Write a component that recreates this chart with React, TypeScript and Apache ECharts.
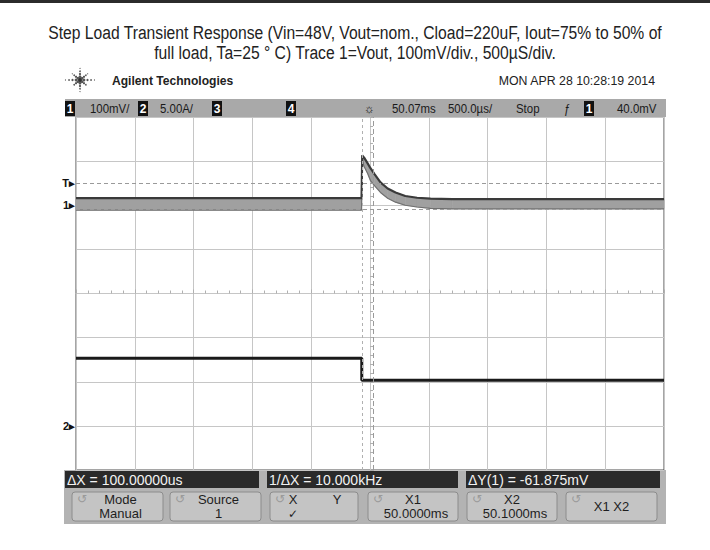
import React, { useEffect, useRef } from "react";
import * as echarts from "echarts";

const titleLines = [
  "Step Load Transient Response (Vin=48V, Vout=nom., Cload=220uF, Iout=75% to 50% of",
  "full load, Ta=25 ° C) Trace 1=Vout, 100mV/div., 500µS/div.",
];
const brandText = "Agilent Technologies";
const dateText = "MON APR 28 10:28:19 2014";

// time axis: µs relative to screen centre (50.07 ms), 500 µs/div
const ch1Time = [-2500, -72, -66, -50, -20, 4, 40, 89, 150, 217, 300, 400, 515, 700, 2500];
const ch1Upper = [16, 16, 113, 108, 95, 84, 70, 52, 38, 29, 21, 17, 15, 14, 14]; // mV
const ch1Lower = [-11, -11, 100, 88, 72, 56, 44, 29, 16, 7, 0, -4, -7, -8, -8]; // mV
const ch2Time = [-2500, -70, -70, 2500];
const ch2Amps = [7.66, 7.66, 5.17, 5.17]; // A
const triggerLevel = 50; // mV
const cursorYLevel = -10; // mV
const cursorX1 = -70; // µs
const cursorX2 = 30; // µs

const headerItems = [
  { box: "1", x: 65 }, { text: "100mV/", x: 90 },
  { box: "2", x: 138 }, { text: "5.00A/", x: 160 },
  { box: "3", x: 212 }, { box: "4", x: 286 },
  { text: "☼", x: 364 }, { text: "50.07ms", x: 392 },
  { text: "500.0µs/", x: 448 }, { text: "Stop", x: 516 },
  { text: "ƒ", x: 564 }, { box: "1", x: 584 }, { text: "40.0mV", x: 617 },
];
const measureTexts = [
  { text: "ΔX = 100.00000us", x0: 65, x1: 259 },
  { text: "1/ΔX = 10.000kHz", x0: 267, x1: 458 },
  { text: "ΔY(1) = -61.875mV", x0: 466, x1: 660 },
];
const buttons = [
  { x0: 72, x1: 163, lines: [{ t: "Mode", dx: 3, row: 0 }, { t: "Manual", dx: 3, row: 1 }] },
  { x0: 170, x1: 261, lines: [{ t: "Source", dx: 3, row: 0 }, { t: "1", dx: 3, row: 1 }] },
  { x0: 270, x1: 358, lines: [{ t: "X", dx: -21, row: 0 }, { t: "Y", dx: 23, row: 0 }, { t: "✓", dx: -21, row: 1 }] },
  { x0: 368, x1: 458, lines: [{ t: "X1", dx: 0, row: 0 }, { t: "50.0000ms", dx: 3, row: 1 }] },
  { x0: 467, x1: 557, lines: [{ t: "X2", dx: 0, row: 0 }, { t: "50.1000ms", dx: 3, row: 1 }] },
  { x0: 566, x1: 657, lines: [{ t: "X1 X2", dx: 0, row: 0.5 }] },
];

const UI = '"Liberation Sans", Arial, sans-serif';

function buildGraphics() {
  const g: any[] = [];
  g.push({ type: "rect", shape: { x: 0, y: 0, width: 710, height: 3 }, style: { fill: "#2b2b2b" } });
  titleLines.forEach((t, i) => {
    g.push({ type: "text", x: 355, y: 33 + i * 20, scaleX: 0.87, style: { text: t, font: `18px ${UI}`, fill: "#222", align: "center", verticalAlign: "middle" } });
  });
  // logo
  const cx = 80, cy = 80;
  g.push({ type: "circle", shape: { cx, cy, r: 2.2 }, style: { fill: "#333" } });
  for (let a = 0; a < 8; a++) {
    const ang = (a * Math.PI) / 4;
    const long = a % 2 === 0 ? 1 : 0.75;
    [4, 7.5, 11, 14.5].forEach((d, k) => {
      const dd = d * long;
      g.push({ type: "circle", shape: { cx: cx + Math.cos(ang) * dd, cy: cy + Math.sin(ang) * dd * 0.8, r: 1.4 - k * 0.28 }, style: { fill: "#555" } });
    });
  }
  g.push({ type: "text", x: 112, y: 81, scaleX: 0.93, style: { text: brandText, font: `bold 13px ${UI}`, fill: "#222", verticalAlign: "middle" } });
  g.push({ type: "text", x: 655, y: 81, scaleX: 0.95, style: { text: dateText, font: `13px ${UI}`, fill: "#222", align: "right", verticalAlign: "middle" } });
  // header bar
  g.push({ type: "rect", shape: { x: 65, y: 99, width: 601, height: 18 }, style: { fill: "#a9a9a9" } });
  headerItems.forEach((it: any) => {
    if (it.box) {
      g.push({ type: "rect", shape: { x: it.x, y: 101, width: 10, height: 15 }, style: { fill: "#111" } });
      g.push({ type: "text", x: it.x + 5, y: 109, style: { text: it.box, font: `bold 12px ${UI}`, fill: "#fff", align: "center", verticalAlign: "middle" } });
    } else {
      g.push({ type: "text", x: it.x, y: 109, scaleX: 0.88, style: { text: it.text, font: `13px ${UI}`, fill: "#1a1a1a", verticalAlign: "middle" } });
    }
  });
  // bottom panel
  g.push({ type: "rect", shape: { x: 64, y: 470, width: 602, height: 54 }, style: { fill: "#b3b3b3" } });
  measureTexts.forEach((m) => {
    g.push({ type: "rect", shape: { x: m.x0, y: 471, width: m.x1 - m.x0, height: 17 }, style: { fill: "#2a2a2a" } });
    g.push({ type: "text", x: m.x0 + 2, y: 480, style: { text: m.text, font: `14px ${UI}`, fill: "#f2f2f2", verticalAlign: "middle" } });
  });
  buttons.forEach((b) => {
    const mid = (b.x0 + b.x1) / 2;
    g.push({ type: "rect", shape: { x: b.x0, y: 492, width: b.x1 - b.x0, height: 29, r: 3 }, style: { fill: "#c4c4c4", stroke: "#8c8c8c", lineWidth: 1 } });
    g.push({ type: "text", x: b.x0 + 5, y: 499, style: { text: "↺", font: `12px "DejaVu Sans", sans-serif`, fill: "#9a9a9a", verticalAlign: "middle" } });
    b.lines.forEach((ln) => {
      g.push({
        type: "text", x: mid + ln.dx, y: 499.5 + ln.row * 14,
        style: { text: ln.t, font: ln.t === "✓" ? `12px "DejaVu Sans", sans-serif` : `13px ${UI}`, fill: "#1e1e1e", align: "center", verticalAlign: "middle" },
      });
    });
  });
  return g;
}

const bandSegments = ch1Time.slice(0, -1).map((t, i) => [
  t, ch1Upper[i], ch1Lower[i], ch1Time[i + 1], ch1Upper[i + 1], ch1Lower[i + 1],
]);

export default function App() {
  const ref = useRef<HTMLDivElement>(null);
  useEffect(() => {
    document.body.style.margin = "0";
    const chart = echarts.init(ref.current!, null, { renderer: "svg" });
    const gridLine = { show: true, lineStyle: { color: "#c6c6c6", width: 1 } };
    const centreAxis = {
      axisLabel: { show: false },
      splitLine: gridLine,
      axisLine: { show: true, onZero: true, lineStyle: { color: "#c6c6c6", type: "dotted" as const } },
      axisTick: { show: true, inside: true, length: 4, lineStyle: { color: "#b0b0b0" } },
      minorTick: { show: true, splitNumber: 5, length: 3, lineStyle: { color: "#b0b0b0" } },
    };
    const markerLabel = (txt: string) => ({
      show: true, position: "start" as const, distance: 1, formatter: txt,
      fontFamily: UI, fontSize: 11, fontWeight: "bold" as const, color: "#111",
    });
    const hidden = { color: "rgba(0,0,0,0)", width: 0 };
    chart.setOption({
      animation: false,
      backgroundColor: "#ffffff",
      grid: { left: 76, top: 117, width: 588, height: 353, show: true, borderColor: "#4a4a4a", borderWidth: 1, backgroundColor: "#fff" },
      xAxis: [{ type: "value", min: -2500, max: 2500, interval: 500, ...centreAxis }],
      yAxis: [
        { type: "value", min: -4, max: 4, interval: 1, ...centreAxis },
        { type: "value", min: -600, max: 200, show: false },
        { type: "value", min: -5, max: 35, show: false },
      ],
      series: [
        {
          name: "Vout band", type: "custom", yAxisIndex: 1, data: bandSegments,
          encode: { x: [0, 3], y: [1, 2, 4, 5] },
          renderItem: (_p: any, api: any) => {
            const a = api.coord([api.value(0), api.value(1)]);
            const b = api.coord([api.value(3), api.value(4)]);
            const c = api.coord([api.value(3), api.value(5)]);
            const d = api.coord([api.value(0), api.value(2)]);
            return { type: "polygon", shape: { points: [a, b, c, d] }, style: { fill: "#a0a0a0", stroke: "#a0a0a0", lineWidth: 0.6 } };
          },
          z: 2,
        },
        {
          name: "Vout lower", type: "line", yAxisIndex: 1, symbol: "none", z: 3,
          data: ch1Time.map((t, i) => [t, ch1Lower[i]]),
          lineStyle: { color: "#707070", width: 1.2 },
          markLine: {
            silent: true, symbol: ["none", "none"],
            data: [
              { yAxis: triggerLevel, lineStyle: { color: "#9a9a9a", type: [4, 3], width: 1 }, label: markerLabel("T▸") },
              { yAxis: cursorYLevel, lineStyle: { color: "#9a9a9a", type: [4, 3], width: 1 }, label: { show: false } },
              { yAxis: 0, lineStyle: hidden, label: markerLabel("1▸") },
              { xAxis: cursorX1, lineStyle: { color: "#b0b0b0", type: [3, 3], width: 1 }, label: { show: false } },
              { xAxis: cursorX2, lineStyle: { color: "#9a9a9a", type: [5, 3], width: 1 }, label: { show: false } },
            ],
          },
        },
        {
          name: "Vout upper", type: "line", yAxisIndex: 1, symbol: "none", z: 3,
          data: ch1Time.map((t, i) => [t, ch1Upper[i]]),
          lineStyle: { color: "#3a3a3a", width: 2.2 },
        },
        {
          name: "Iout", type: "line", yAxisIndex: 2, symbol: "none", z: 3,
          data: ch2Time.map((t, i) => [t, ch2Amps[i]]),
          lineStyle: { color: "#1a1a1a", width: 3 },
          markLine: {
            silent: true, symbol: ["none", "none"],
            data: [{ yAxis: 0, lineStyle: hidden, label: markerLabel("2▸") }],
          },
        },
      ],
      graphic: buildGraphics(),
    });
    return () => chart.dispose();
  }, []);
  return <div ref={ref} style={{ position: "absolute", left: 0, top: 0, width: 710, height: 550 }} />;
}
